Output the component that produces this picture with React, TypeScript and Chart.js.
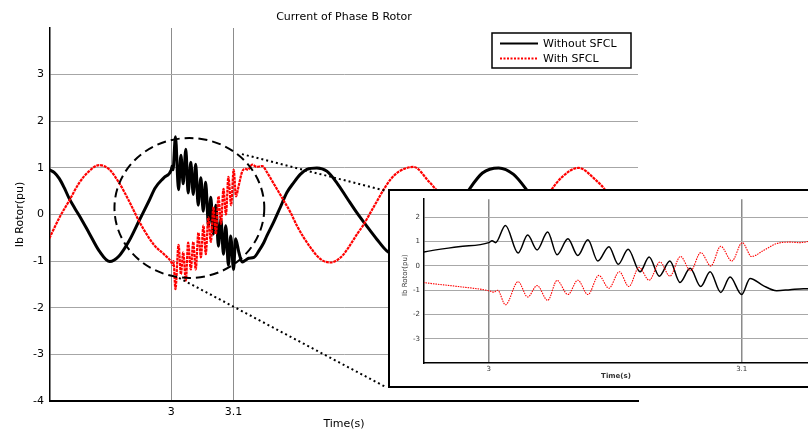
import React, { useEffect, useRef } from "react";
import { Chart, registerables } from "chart.js";

Chart.register(...registerables);

// ---------------- data ----------------
const chartTitle = "Current of Phase B Rotor";
const xTitle = "Time(s)";
const yTitle = "Ib Rotor(pu)";
const seriesNames = ["Without SFCL", "With SFCL"];

const mainXTicks = [3, 3.1];
const mainYTicks = [-4, -3, -2, -1, 0, 1, 2, 3];
const insetXTicks = [3, 3.1];
const insetYTicks = [-3, -2, -1, 0, 1, 2];

const timeWithout = [
  2.804, 2.812, 2.82, 2.828, 2.836, 2.845, 2.855, 2.868, 2.884, 2.901, 2.916, 2.932, 2.948, 2.964, 2.974, 2.988, 3.0,
  3.0013, 3.0027, 3.0066, 3.0116, 3.0154, 3.0191, 3.0233, 3.027, 3.0313, 3.0352, 3.0392, 3.0431, 3.0475,
  3.0512, 3.0551, 3.0598, 3.0634, 3.0674, 3.0716, 3.0756, 3.0796, 3.0838, 3.0875, 3.0917, 3.0954, 3.1,
  3.1033, 3.1085, 3.1138, 3.1191, 3.1244, 3.1327, 3.1407, 3.1487, 3.1535, 3.1642, 3.175, 3.1857, 3.1965,
  3.2072, 3.2178, 3.2339, 3.2499, 3.266, 3.282, 3.2981, 3.3141, 3.3302, 3.3462, 3.3806, 3.4, 3.43, 3.45,
  3.4767, 3.5, 3.526, 3.55, 3.5726, 3.6, 3.64, 3.672, 3.7, 3.75,
];
const ibWithout = [
  0.96, 0.9, 0.77, 0.57, 0.34, 0.13, -0.09, -0.4, -0.78, -1.01, -0.89, -0.57, -0.14, 0.29, 0.57, 0.79, 0.96,
  1.04, 0.96, 1.67, 0.53, 1.27, 0.66, 1.4, 0.46, 1.12, 0.43, 1.08, 0.2, 0.79,
  0.07, 0.69, -0.24, 0.37, -0.42, 0.2, -0.68, -0.1, -0.85, -0.24, -1.09, -0.46, -1.18,
  -0.52, -0.81, -1.02, -0.98, -0.94, -0.92, -0.78, -0.6, -0.46, -0.17, 0.15, 0.47, 0.68,
  0.86, 0.97, 1.0, 0.93, 0.68, 0.36, 0.04, -0.25, -0.53, -0.78, -1.0, -0.93, -0.48, -0.06,
  0.5, 0.89, 1.0, 0.86, 0.5, -0.02, -0.72, -1.0, -0.82, 0.0,
];

const timeWith = [
  2.804, 2.82, 2.836, 2.852, 2.868, 2.884, 2.9, 2.916, 2.932, 2.948, 2.964, 2.974, 2.988, 3.0,
  3.002, 3.0035, 3.0066, 3.0116, 3.0154, 3.0191, 3.0233, 3.027, 3.0313, 3.0352, 3.0392, 3.0435, 3.0475,
  3.0516, 3.0554, 3.0594, 3.0634, 3.0677, 3.0716, 3.0758, 3.0798, 3.0838, 3.0878, 3.0917, 3.0961, 3.1002,
  3.1039, 3.1085, 3.1138, 3.1191, 3.1231, 3.13, 3.1376, 3.146, 3.154, 3.162, 3.17, 3.181, 3.1917,
  3.2022, 3.213, 3.2238, 3.2343, 3.2451, 3.2559, 3.2664, 3.2772, 3.288, 3.2986, 3.3093, 3.32, 3.3307, 3.3414, 3.3522,
  3.3655, 3.3896, 3.4137, 3.4313, 3.46, 3.49, 3.5212, 3.55, 3.58, 3.6063, 3.6276, 3.6544, 3.6812, 3.7026, 3.75,
];
const ibWith = [
  -0.51, -0.07, 0.3, 0.68, 0.93, 1.06, 0.97, 0.68, 0.29, -0.14, -0.5, -0.68, -0.85, -1.02,
  -1.08, -1.0, -1.6, -0.65, -1.28, -0.81, -1.42, -0.6, -1.18, -0.59, -1.18, -0.39, -0.92,
  -0.24, -0.85, -0.06, -0.59, 0.16, -0.42, 0.39, -0.2, 0.55, 0.0, 0.81, 0.2, 0.96,
  0.39, 0.63, 0.92, 0.98, 0.96, 1.07, 1.02, 1.04, 0.9, 0.72, 0.54, 0.29, 0.04,
  -0.25, -0.5, -0.71, -0.89, -1.0, -1.03, -0.98, -0.85, -0.64, -0.42, -0.21, 0.04, 0.29, 0.54, 0.75,
  0.92, 1.02, 0.71, 0.44, -0.11, -0.75, -1.0, -0.78, -0.18, 0.44, 0.8, 1.0, 0.75, 0.44, -0.6,
];

// zoom annotation (data units of the main axes)
const zoomCenter = [3.029, 0.14];
const zoomRadius = [0.1204, 1.5];
const leaderLines = [
  [[3.1135, 1.295], [3.346, 0.503]],
  [[3.0124, -1.36], [3.346, -3.71]],
];

// ---------------- styling ----------------
const FONT = "'DejaVu Sans', 'Liberation Sans', Arial, sans-serif";
const RED = "#ff0000";

function pairs(ts: number[], vs: number[]) {
  return ts.map((t, i) => ({ x: t, y: vs[i] }));
}

const mainDecor = {
  id: "mainDecor",
  afterDatasetsDraw(chart: any) {
    const { ctx, scales } = chart;
    const x = scales.x;
    const y = scales.y;
    ctx.save();
    const cx = x.getPixelForValue(zoomCenter[0]);
    const cy = y.getPixelForValue(zoomCenter[1]);
    const rx = Math.abs(x.getPixelForValue(zoomCenter[0] + zoomRadius[0]) - cx);
    const ry = Math.abs(y.getPixelForValue(zoomCenter[1] + zoomRadius[1]) - cy);
    ctx.strokeStyle = "#000";
    ctx.lineWidth = 2;
    ctx.setLineDash([9, 5]);
    ctx.beginPath();
    ctx.ellipse(cx, cy, rx, ry, 0, 0, Math.PI * 2);
    ctx.stroke();
    ctx.setLineDash([2, 3]);
    for (const [a, b] of leaderLines) {
      ctx.beginPath();
      ctx.moveTo(x.getPixelForValue(a[0]), y.getPixelForValue(a[1]));
      ctx.lineTo(x.getPixelForValue(b[0]), y.getPixelForValue(b[1]));
      ctx.stroke();
    }
    ctx.restore();
  },
  afterDraw(chart: any) {
    const { ctx, chartArea } = chart;
    const midX = (chartArea.left + chartArea.right) / 2;
    const midY = (chartArea.top + chartArea.bottom) / 2;
    ctx.save();
    ctx.fillStyle = "#000";
    ctx.font = `11px ${FONT}`;
    ctx.textAlign = "center";
    ctx.textBaseline = "middle";
    ctx.fillText(chartTitle, midX, chartArea.top - 11);
    ctx.fillText(xTitle, midX, chartArea.bottom + 23);
    ctx.save();
    ctx.translate(chartArea.left - 30, midY);
    ctx.rotate(-Math.PI / 2);
    ctx.fillText(yTitle, 0, 0);
    ctx.restore();

    // legend
    const bw = 139;
    const bh = 35;
    const bx = chartArea.right - 7 - bw;
    const by = chartArea.top + 5;
    ctx.fillStyle = "#fff";
    ctx.fillRect(bx, by, bw, bh);
    ctx.strokeStyle = "#000";
    ctx.lineWidth = 1.5;
    ctx.strokeRect(bx, by, bw, bh);
    ctx.lineWidth = 2;
    ctx.beginPath();
    ctx.moveTo(bx + 8, by + 10.5);
    ctx.lineTo(bx + 46, by + 10.5);
    ctx.stroke();
    ctx.strokeStyle = RED;
    ctx.setLineDash([2, 1.5]);
    ctx.beginPath();
    ctx.moveTo(bx + 8, by + 25.5);
    ctx.lineTo(bx + 46, by + 25.5);
    ctx.stroke();
    ctx.setLineDash([]);
    ctx.fillStyle = "#000";
    ctx.textAlign = "left";
    ctx.fillText(seriesNames[0], bx + 51, by + 11);
    ctx.fillText(seriesNames[1], bx + 51, by + 26);
    ctx.restore();
  },
};

const insetDecor = {
  id: "insetDecor",
  afterDraw(chart: any) {
    const { ctx, chartArea } = chart;
    ctx.save();
    ctx.fillStyle = "#333";
    ctx.font = `bold 7px ${FONT}`;
    ctx.textAlign = "center";
    ctx.textBaseline = "middle";
    ctx.fillText(xTitle, (chartArea.left + chartArea.right) / 2, chartArea.bottom + 13);
    ctx.font = `7px ${FONT}`;
    ctx.translate(chartArea.left - 19, chartArea.top + 76);
    ctx.rotate(-Math.PI / 2);
    ctx.fillText(yTitle, 0, 0);
    ctx.restore();
  },
};

function MainChart() {
  const ref = useRef<HTMLCanvasElement>(null);
  useEffect(() => {
    const chart = new Chart(ref.current!, {
      type: "line",
      data: {
        datasets: [
          {
            label: seriesNames[0],
            data: pairs(timeWithout, ibWithout),
            borderColor: "#000",
            borderWidth: 3,
            pointRadius: 0,
            cubicInterpolationMode: "monotone",
            order: 2,
          },
          {
            label: seriesNames[1],
            data: pairs(timeWith, ibWith),
            borderColor: RED,
            borderWidth: 2.2,
            borderDash: [3, 0.8],
            pointRadius: 0,
            cubicInterpolationMode: "monotone",
            order: 1,
          },
        ],
      },
      options: {
        animation: false,
        responsive: false,
        devicePixelRatio: 1,
        layout: { padding: { left: 0, right: 170, top: 28, bottom: 0 } },
        plugins: { legend: { display: false }, title: { display: false }, tooltip: { enabled: false } },
        scales: {
          x: {
            type: "linear",
            min: 2.805,
            max: 3.75,
            afterBuildTicks: (s: any) => {
              s.ticks = mainXTicks.map((v) => ({ value: v }));
            },
            afterFit: (s: any) => {
              s.height = 29;
            },
            grid: { color: "#8c8c8c", lineWidth: 1, drawTicks: false },
            border: { display: true, color: "#000", width: 2 },
            ticks: {
              padding: 5,
              color: "#000",
              font: { family: FONT, size: 11 },
              maxRotation: 0,
              autoSkip: false,
              callback: (v: any) => String(v),
            },
          },
          y: {
            type: "linear",
            min: -4,
            max: 4,
            afterBuildTicks: (s: any) => {
              s.ticks = mainYTicks.map((v) => ({ value: v }));
            },
            afterFit: (s: any) => {
              s.width = 50;
            },
            grid: { color: "#a6a6a6", lineWidth: 1, drawTicks: false },
            border: { display: true, color: "#000", width: 1.5 },
            ticks: {
              padding: 6,
              color: "#000",
              font: { family: FONT, size: 11 },
              autoSkip: false,
              callback: (v: any) => String(v),
            },
          },
        },
      } as any,
      plugins: [mainDecor],
    });
    return () => chart.destroy();
  }, []);
  return <canvas ref={ref} width={808} height={430} style={{ position: "absolute", left: 0, top: 0 }} />;
}

function InsetChart() {
  const ref = useRef<HTMLCanvasElement>(null);
  useEffect(() => {
    const chart = new Chart(ref.current!, {
      type: "line",
      data: {
        datasets: [
          {
            label: seriesNames[0],
            data: pairs(timeWithout, ibWithout),
            borderColor: "#000",
            borderWidth: 1.5,
            pointRadius: 0,
            cubicInterpolationMode: "monotone",
            order: 2,
          },
          {
            label: seriesNames[1],
            data: pairs(timeWith, ibWith),
            borderColor: RED,
            borderWidth: 1.1,
            borderDash: [1.5, 1],
            pointRadius: 0,
            cubicInterpolationMode: "monotone",
            order: 1,
          },
        ],
      },
      options: {
        animation: false,
        responsive: false,
        devicePixelRatio: 1,
        layout: { padding: { left: 0, right: 48, top: 1, bottom: 0 } },
        plugins: { legend: { display: false }, title: { display: false }, tooltip: { enabled: false } },
        scales: {
          x: {
            type: "linear",
            min: 2.9744,
            max: 3.1262,
            afterBuildTicks: (s: any) => {
              s.ticks = insetXTicks.map((v) => ({ value: v }));
            },
            afterFit: (s: any) => {
              s.height = 23;
            },
            grid: { color: "#8a8a8a", lineWidth: 1.5, drawTicks: false },
            border: { display: true, color: "#000", width: 1.5 },
            ticks: {
              padding: 2,
              color: "#333",
              font: { family: FONT, size: 7 },
              maxRotation: 0,
              autoSkip: false,
              callback: (v: any) => String(v),
            },
          },
          y: {
            type: "linear",
            min: -4,
            max: 2.75,
            afterBuildTicks: (s: any) => {
              s.ticks = insetYTicks.map((v) => ({ value: v }));
            },
            afterFit: (s: any) => {
              s.width = 34;
            },
            grid: { color: "#a8a8a8", lineWidth: 1, drawTicks: false },
            border: { display: true, color: "#000", width: 1.5 },
            ticks: {
              padding: 4,
              color: "#333",
              font: { family: FONT, size: 7 },
              autoSkip: false,
              callback: (v: any) => String(v),
            },
          },
        },
      } as any,
      plugins: [insetDecor],
    });
    return () => chart.destroy();
  }, []);
  return <canvas ref={ref} width={466} height={195} style={{ display: "block" }} />;
}

export default function App() {
  return (
    <div
      style={{
        position: "fixed",
        left: 0,
        top: 0,
        width: 808,
        height: 430,
        overflow: "hidden",
        background: "#fff",
      }}
    >
      <MainChart />
      <div
        style={{
          position: "absolute",
          left: 388,
          top: 189,
          width: 470,
          height: 199,
          boxSizing: "border-box",
          border: "2px solid #000",
          background: "#fff",
        }}
      >
        <InsetChart />
      </div>
    </div>
  );
}
